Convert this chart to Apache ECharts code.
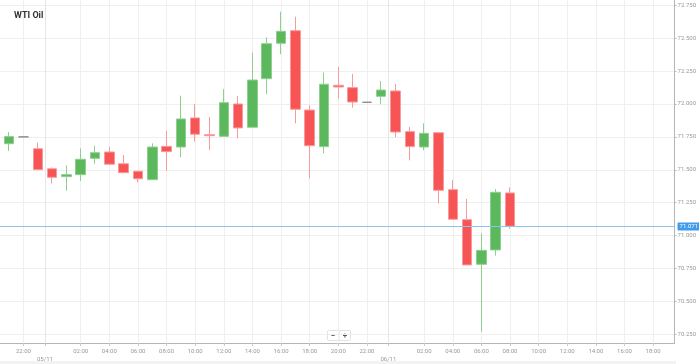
<!DOCTYPE html>
<html><head><meta charset="utf-8">
<script src="https://cdn.jsdelivr.net/npm/echarts@6/dist/echarts.min.js"></script>
<style>html,body{margin:0;padding:0;background:#fff}#c{width:699px;height:364px}</style>
</head><body><div id="c"></div>
<script>
// hour index, 0 = 21:00 on 04/11
const hourIdx = [0,1,2,3,4,5,6,7,8,9,10,11,12,13,14,15,16,17,18,19,20,21,22,23,24,25,26,27,28,29,30,31,32,33,34,35];
const opens  = [71.698,71.750,71.660,71.508,71.448,71.463,71.587,71.635,71.546,71.489,71.425,71.678,71.673,71.894,71.767,71.754,72.000,71.823,72.192,72.461,72.557,71.954,71.676,72.142,72.124,72.013,72.058,72.099,71.790,71.673,71.782,71.349,71.121,70.782,70.891,71.324];
const closes = [71.752,71.750,71.501,71.443,71.463,71.580,71.630,71.542,71.478,71.432,71.673,71.638,71.886,71.770,71.759,72.010,71.818,72.182,72.458,72.552,71.960,71.683,72.150,72.129,72.015,72.013,72.106,71.787,71.676,71.777,71.344,71.124,70.777,70.888,71.329,71.071];
const lows   = [71.643,71.750,71.500,71.397,71.341,71.415,71.546,71.540,71.473,71.405,71.425,71.493,71.595,71.714,71.650,71.754,71.739,71.823,72.074,72.378,71.853,71.435,71.625,72.040,71.972,72.013,71.998,71.747,71.572,71.648,71.245,71.124,70.777,70.270,70.847,71.052];
const highs  = [71.787,71.750,71.706,71.518,71.534,71.663,71.683,71.673,71.612,71.490,71.701,71.795,72.063,72.000,71.901,72.112,72.061,72.390,72.507,72.701,72.663,71.990,72.238,72.281,72.228,72.013,72.175,72.152,71.825,71.853,71.782,71.422,71.278,71.017,71.354,71.367];
const yTicks = [70.25,70.5,70.75,71,71.25,71.5,71.75,72,72.25,72.5,72.75];
const xTicks = [1,2.5,5,7,9,11,13,15,17,19,21,23,25,26.5,29,31,33,35,37,39,41,43,45];
const daySeps = [2.5, 26.5];
const dayLabels = ['05/11','06/11'];
const startHour = 21;
const lastPrice = 71.071;
const title = 'WTI Oil';

const candles = hourIdx.map((h,i)=>[h, opens[i], closes[i], lows[i], highs[i]]);
const font = 'Roboto, "Liberation Sans", sans-serif';

const chart = echarts.init(document.getElementById('c'), null, {renderer:'canvas'});
chart.setOption({
  animation:false,
  backgroundColor:'#fff',
  title:{text:title,left:9,top:6,textStyle:{fontSize:9,fontWeight:'bold',color:'#333',fontFamily:font}},
  grid:{left:0,top:0,width:676,height:343,containLabel:false,show:false},
  xAxis:{type:'value',min:-0.64,max:46.5,
    axisLine:{show:true,onZero:false,lineStyle:{color:'#b5b5b5',width:1}},
    axisTick:{show:true,customValues:xTicks,length:3,lineStyle:{color:'#ccc'}},
    splitLine:{show:true,lineStyle:{color:'#efefef',width:1}},
    axisLabel:{customValues:xTicks,fontSize:6,color:'#999',fontFamily:font,margin:4,lineHeight:8,
      formatter:function(v){
        const k = daySeps.indexOf(v);
        if(k>=0) return '\n'+dayLabels[k];
        const h = (startHour + Math.round(v)) % 24;
        return (h<10?'0':'')+h+':00';
      }}
  },
  yAxis:{type:'value',position:'right',min:70.184,max:72.79,
    axisLine:{show:true,onZero:false,lineStyle:{color:'#b5b5b5',width:1}},
    axisTick:{show:true,customValues:yTicks,length:2,lineStyle:{color:'#bbb'}},
    splitLine:{show:true,lineStyle:{color:'#efefef',width:1}},
    axisLabel:{customValues:yTicks,fontSize:6,color:'#999',fontFamily:font,margin:3,
      formatter:function(v){return v.toFixed(3);}}
  },
  series:[{
    type:'candlestick',
    data:candles,
    encode:{x:0,y:[1,2,3,4]},
    barWidth:10,
    itemStyle:{color:'#5cb85c',color0:'#f75555',borderColor:'#8fcf8f',borderColor0:'#f99a9a',borderColorDoji:'#8a8a8a',borderWidth:1},
    markLine:{silent:true,symbol:['none','none'],animation:false,
      data:[
        {xAxis:daySeps[0],lineStyle:{color:'#e6e6e6',type:'solid',width:1},label:{show:false}},
        {xAxis:daySeps[1],lineStyle:{color:'#e6e6e6',type:'solid',width:1},label:{show:false}},
        {yAxis:lastPrice,lineStyle:{color:'#8cc4ee',type:'solid',width:1},
          label:{show:true,position:'end',formatter:lastPrice.toFixed(3),backgroundColor:'#3d9be9',color:'#fff',fontSize:6,fontFamily:font,padding:[1,2,1,2],borderRadius:1,distance:3}}
      ]}
  }],
  graphic:[
    {type:'rect',left:0,top:361,shape:{width:676,height:3},style:{fill:'#f3f3f3'},silent:true},
    {type:'group',left:327,top:328,children:[
      {type:'rect',shape:{x:0,y:0,width:23,height:10,r:1},style:{fill:'#fff',stroke:'#e2e2e2',lineWidth:1}},
      {type:'line',shape:{x1:11.5,y1:0,x2:11.5,y2:10},style:{stroke:'#e2e2e2',lineWidth:1}},
      {type:'text',style:{x:5.5,y:5,text:'−',fontSize:8,fill:'#555',align:'center',verticalAlign:'middle',fontFamily:font,fontWeight:'bold'}},
      {type:'text',style:{x:17.5,y:5,text:'+',fontSize:8,fill:'#555',align:'center',verticalAlign:'middle',fontFamily:font,fontWeight:'bold'}}
    ]}
  ]
});
</script></body></html>
